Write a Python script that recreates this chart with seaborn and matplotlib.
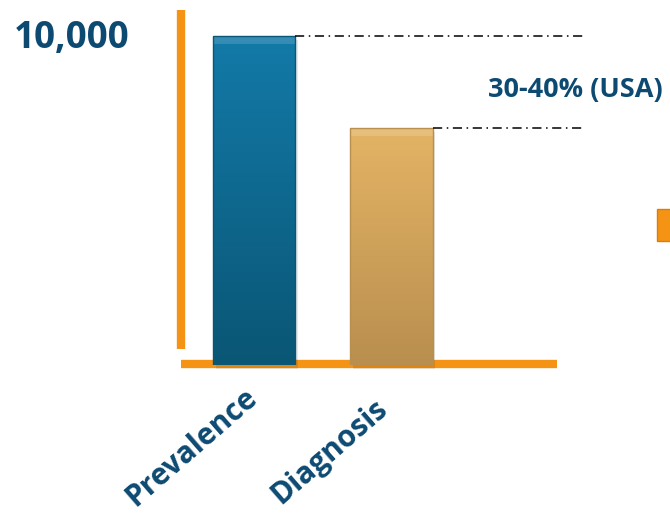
import numpy as np
import pandas as pd
import matplotlib
matplotlib.use("Agg")
import matplotlib.pyplot as plt
from matplotlib.colors import LinearSegmentedColormap
from matplotlib.patches import Rectangle
from matplotlib.transforms import ScaledTranslation
import seaborn as sns

# Data
categories = ["Prevalence", "Diagnosis"]
values = [10000, 7200]
top_label = "10,000"
gap_label = "30-40% (USA)"

bar_top_colors = ["#137AA8", "#E4B465"]
bar_bottom_colors = ["#0A5675", "#B98F4F"]
orange = "#F59314"
text_blue = "#0D4A72"

sns.set_theme(style="white")
plt.rcParams["font.family"] = ["Open Sans", "DejaVu Sans"]

W, H = 670, 514
fig = plt.figure(figsize=(W / 100, H / 100), dpi=100)

# axes box in pixels (left, right, top, bottom)
L, R, T, B = 181, 557, 10, 365
ax = fig.add_axes([L / W, (H - B) / H, (R - L) / W, (B - T) / H])

df = pd.DataFrame({"category": categories, "value": values})
sns.barplot(data=df, x="category", y="value", ax=ax, width=0.6,
            palette=bar_top_colors, hue="category", legend=False,
            edgecolor="none", saturation=1, zorder=3)

ax.set_xlim(-0.531, 2.204)
ax.set_ylim(0, 10790)
for s in ax.spines.values():
    s.set_visible(False)
ax.set_yticks([])
ax.set_xlabel("")
ax.set_ylabel("")
ax.patch.set_alpha(0)

# vertical gradient fill with a soft bevel for each bar
for patch, c_top, c_bot in zip(list(ax.patches), bar_top_colors, bar_bottom_colors):
    x0, y0 = patch.get_x(), patch.get_y()
    w, h = patch.get_width(), patch.get_height()
    cmap = LinearSegmentedColormap.from_list("g", [c_bot, c_top])
    grad = np.linspace(0, 1, 256).reshape(-1, 1)
    img = ax.imshow(grad, cmap=cmap, origin="lower", aspect="auto",
                    extent=(x0, x0 + w, y0, y0 + h), zorder=3.5)
    img.set_clip_path(patch)
    # soft shadow
    ax.add_patch(Rectangle((x0 + 0.02, y0 - 120), w, h, facecolor="black",
                           alpha=0.09, edgecolor="none", zorder=2.8, clip_on=False))
    # highlight band at the top
    ax.add_patch(Rectangle((x0, y0 + h - 250), w, 250, facecolor="white",
                           alpha=0.15, edgecolor="none", zorder=3.6))
    ax.add_patch(Rectangle((x0, y0), w, h, facecolor="none",
                           edgecolor=c_bot, linewidth=1.0, zorder=3.7))

# orange axis lines
ax.plot([0, 0], [0.045, 1], transform=ax.transAxes, color=orange,
        linewidth=6, solid_capstyle="butt", clip_on=False, zorder=2)
ax.plot([0, 1], [0.003, 0.003], transform=ax.transAxes, color=orange,
        linewidth=6, solid_capstyle="butt", clip_on=False, zorder=2)

# dash-dot reference lines from each bar top
line_end = 2.393
for patch, v in zip(ax.patches[:2], values):
    xr = patch.get_x() + patch.get_width()
    ax.plot([xr, line_end], [v, v], color="black", linewidth=1.1,
            linestyle=(0, (6, 3, 1, 3)), clip_on=False, zorder=4)

# category labels
ax.set_xticks(range(len(categories)))
ax.set_xticklabels(categories, rotation=41, ha="right", va="top",
                   rotation_mode="anchor", fontsize=21.5, fontweight="bold",
                   color=text_blue)
ax.tick_params(axis="x", length=0, pad=20)
label_shift = [(-0.10, 0.10), (-0.18, -0.01)]  # inches
for lbl, (dx, dy) in zip(ax.get_xticklabels(), label_shift):
    lbl.set_transform(lbl.get_transform()
                      + ScaledTranslation(dx, dy, fig.dpi_scale_trans))

fig.text(14 / W, 1 - 38 / H, top_label, fontsize=26.5, fontweight="bold",
         color=text_blue, ha="left", va="center")
fig.text(488 / W, 1 - 90 / H, gap_label, fontsize=19.5, fontweight="bold",
         color=text_blue, ha="left", va="center")

# partial orange marker at the right edge
fig.patches.append(Rectangle((657 / W, 1 - 241 / H), 20 / W, 32 / H,
                             transform=fig.transFigure, facecolor=orange,
                             edgecolor="#D87E0A", linewidth=1, figure=fig))

fig.savefig("out.png", dpi=100)
